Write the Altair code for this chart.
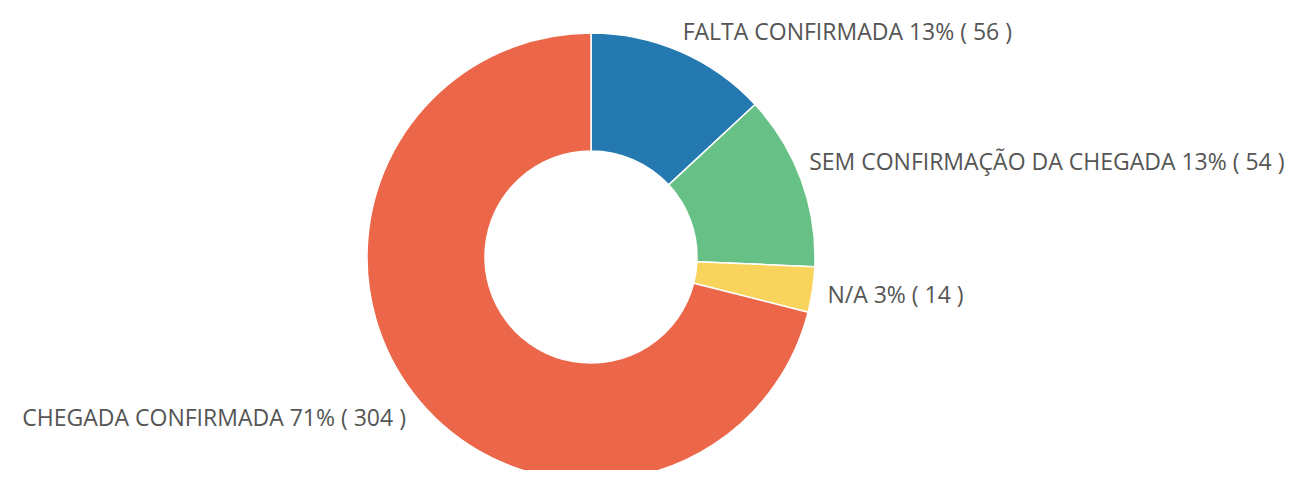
import altair as alt
import pandas as pd

categories = ["FALTA CONFIRMADA", "SEM CONFIRMAÇÃO DA CHEGADA", "N/A", "CHEGADA CONFIRMADA"]
counts = [56, 54, 14, 304]
percents = [13, 13, 3, 71]
colors = ["#2479b1", "#67c085", "#f9d45d", "#ec6649"]

df = pd.DataFrame({
    "cat": categories,
    "value": counts,
    "pct": percents,
    "idx": list(range(len(categories))),
})
df["label"] = [f"{c} {p}% ( {v} )" for c, p, v in zip(categories, percents, counts)]

CX, CY = 583, 249

base = alt.Chart(df).encode(
    theta=alt.Theta("value:Q", stack=True),
    order=alt.Order("idx:Q"),
    x=alt.value(CX),
    y=alt.value(CY),
)

arc = base.mark_arc(innerRadius=106, outerRadius=224, stroke="white", strokeWidth=1.5).encode(
    color=alt.Color("cat:N", scale=alt.Scale(domain=categories, range=colors), legend=None)
)

# per-label fine offsets and alignment (style)
label_style = [
    ("left", -5, -2),
    ("left", -9, -10),
    ("left", -3, 4),
    ("right", 6, 14),
]

layers = [arc]
for i, (al, dx, dy) in enumerate(label_style):
    t = base.transform_calculate(
        shown=f"datum.idx == {i} ? datum.label : ''"
    ).mark_text(
        align=al, baseline="middle", font="Open Sans", fontSize=23, color="#555555", dx=dx, dy=dy
    ).encode(
        text="shown:N",
        radius=alt.value(242),
    )
    layers.append(t)

chart = alt.layer(*layers).properties(
    width=1283, height=462, autosize=alt.AutoSizeParams(type="none"), padding=0
).configure_view(stroke=None)

chart.save("out.html", embed_options={"renderer": "svg", "actions": False})
